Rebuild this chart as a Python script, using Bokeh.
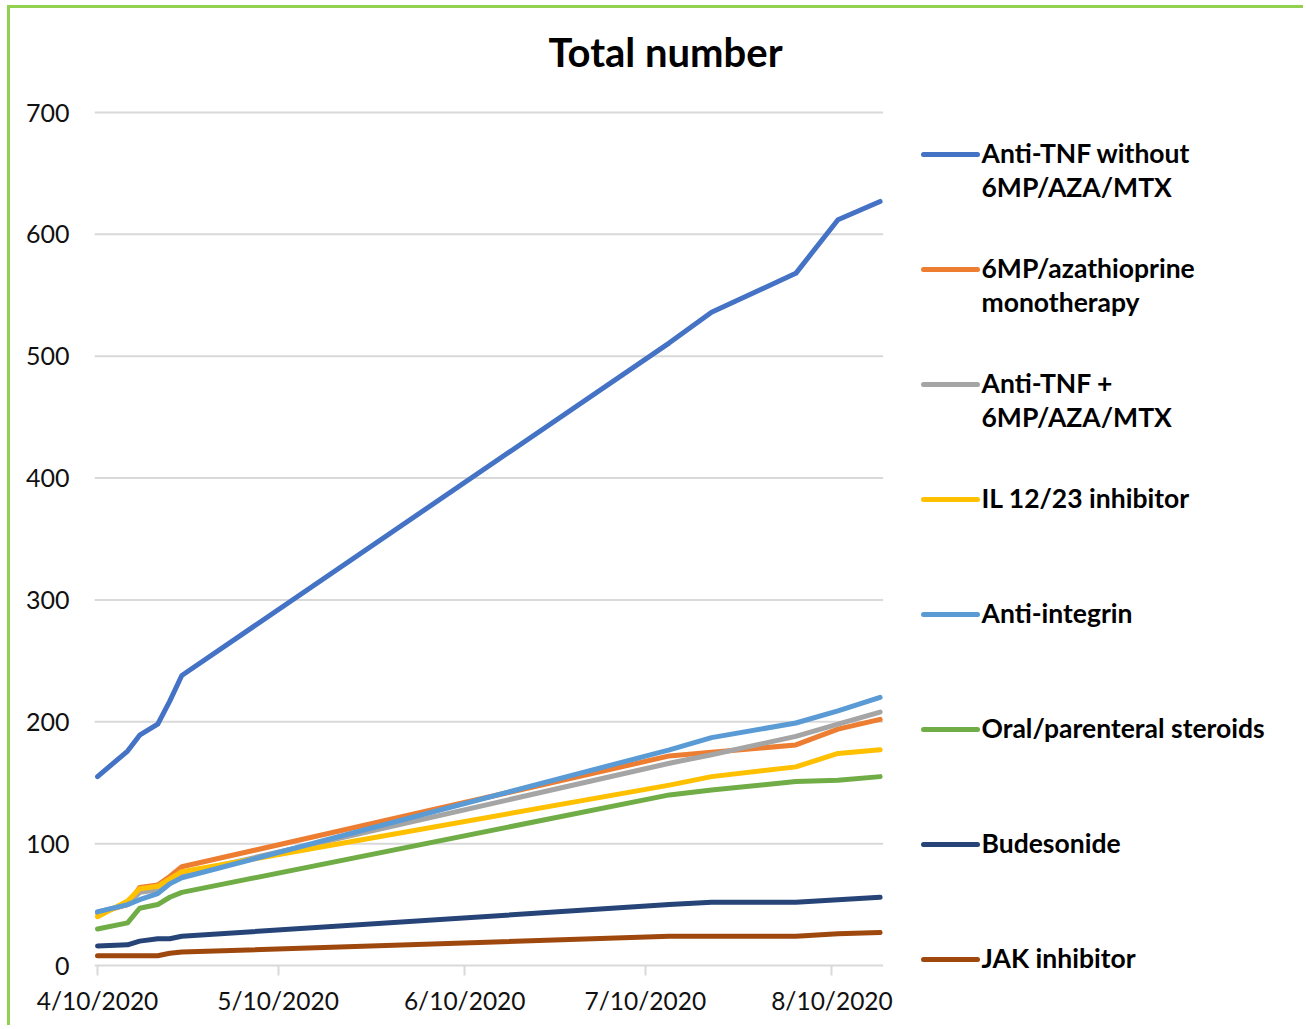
import pandas as pd
from bokeh.plotting import figure
from bokeh.models import Range1d, LinearAxis, FixedTicker, ColumnDataSource
from bokeh.core.properties import value
from bokeh.embed import file_html
from bokeh.resources import INLINE

# ---------------- data ----------------
dates = ["2020-04-10", "2020-04-15", "2020-04-17", "2020-04-20", "2020-04-22",
         "2020-04-24", "2020-07-14", "2020-07-21", "2020-08-04", "2020-08-11",
         "2020-08-18"]

anti_tnf_without = [155, 176, 189, 198, 217, 238, 511, 536, 568, 612, 627]
mp_aza_mono = [43, 50, 64, 66, 73, 81, 172, 175, 181, 194, 202]
anti_tnf_plus = [44, 50, 60, 62, 69, 75, 166, 173, 188, 198, 208]
il_12_23 = [40, 53, 63, 65, 71, 77, 148, 155, 163, 174, 177]
anti_integrin = [44, 50, 54, 59, 67, 72, 177, 187, 199, 209, 220]
steroids = [30, 35, 47, 50, 56, 60, 140, 144, 151, 152, 155]
budesonide = [16, 17, 20, 22, 22, 24, 50, 52, 52, 54, 56]
jak_inhibitor = [8, 8, 8, 8, 10, 11, 24, 24, 24, 26, 27]

series_names = ["Anti-TNF without\n6MP/AZA/MTX",
                "6MP/azathioprine\nmonotherapy",
                "Anti-TNF +\n6MP/AZA/MTX",
                "IL 12/23 inhibitor",
                "Anti-integrin",
                "Oral/parenteral steroids",
                "Budesonide",
                "JAK inhibitor"]
series_values = [anti_tnf_without, mp_aza_mono, anti_tnf_plus, il_12_23,
                 anti_integrin, steroids, budesonide, jak_inhibitor]
colors = ["#4472C4", "#ED7D31", "#A5A5A5", "#FFC000",
          "#5B9BD5", "#70AD47", "#264478", "#9E480E"]

y_ticks = [0, 100, 200, 300, 400, 500, 600, 700]
x_tick_dates = ["2020-04-10", "2020-05-10", "2020-06-10", "2020-07-10", "2020-08-10"]
x_tick_labels = ["4/10/2020", "5/10/2020", "6/10/2020", "7/10/2020", "8/10/2020"]
title_text = "Total number"

# ---------------- layout constants (page pixels) ----------------
t0 = pd.Timestamp(dates[0])
days = [(pd.Timestamp(d) - t0).days for d in dates]
tick_days = [(pd.Timestamp(d) - t0).days for d in x_tick_dates]
last_day = days[-1]

OX, OY = 10, 8                 # canvas origin on the page
FR_L, FR_R = 94, 1290          # frame left/right (page x)
FR_T, FR_B = 8, 975            # frame top/bottom (page y)
Y0_PAGE, Y700_PAGE = 965, 112  # page y of value 0 and 700
PX_PER_DAY = 6.02
PX_PER_UNIT = (Y0_PAGE - Y700_PAGE) / 700.0
FRAME_W, FRAME_H = FR_R - FR_L, FR_B - FR_T
FONT = "Lato"

p = figure(frame_width=FRAME_W, frame_height=FRAME_H,
           min_border_left=FR_L - OX, min_border_top=FR_T - OY,
           min_border_right=1306 - FR_R, min_border_bottom=1028 - FR_B,
           x_range=Range1d(-0.5, -0.5 + FRAME_W / PX_PER_DAY),
           y_range=Range1d(-(FR_B - Y0_PAGE) / PX_PER_UNIT,
                           (Y0_PAGE - FR_T) / PX_PER_UNIT),
           x_axis_type=None, y_axis_type=None,
           toolbar_location=None, output_backend="svg",
           background_fill_color="white", border_fill_color="white")
p.outline_line_color = None
p.margin = (OY, 0, 0, OX)
p.styles = {"box-shadow": "-3px -3px 0 0 #92D050"}
# page-pixel ranges for title and legend placement
p.extra_x_ranges = {"px": Range1d(FR_L, FR_R)}
p.extra_y_ranges = {"py": Range1d(FR_B, FR_T)}

# axes
xaxis = LinearAxis(ticker=FixedTicker(ticks=tick_days),
                   major_label_overrides={d: l for d, l in zip(tick_days, x_tick_labels)},
                   bounds=(-0.5, last_day + 0.5))
xaxis.axis_line_color = None
xaxis.major_tick_line_color = "#D9D9D9"
xaxis.major_tick_line_width = 2
xaxis.major_tick_in = FR_B - Y0_PAGE
xaxis.major_tick_out = 0
xaxis.minor_tick_line_color = None
xaxis.major_label_standoff = 10
xaxis.major_label_text_font = FONT
xaxis.major_label_text_font_size = "24.5px"
xaxis.major_label_text_color = "#111111"
p.add_layout(xaxis, "below")

yaxis = LinearAxis(ticker=FixedTicker(ticks=y_ticks))
yaxis.axis_line_color = None
yaxis.major_tick_line_color = None
yaxis.major_tick_out = 0
yaxis.major_tick_in = 0
yaxis.minor_tick_line_color = None
yaxis.major_label_standoff = 25
yaxis.major_label_text_font = FONT
yaxis.major_label_text_font_size = "25px"
yaxis.major_label_text_color = "#111111"
p.add_layout(yaxis, "left")

# horizontal gridlines (0 line doubles as the category axis line)
grid_src = ColumnDataSource(dict(x0=[-0.5] * len(y_ticks),
                                 x1=[last_day + 0.5] * len(y_ticks),
                                 y=y_ticks))
p.segment(x0="x0", x1="x1", y0="y", y1="y", source=grid_src,
          line_color="#D9D9D9", line_width=2)

# series
for vals, col in zip(series_values, colors):
    p.line(days, vals, line_color=col, line_width=5,
           line_cap="round", line_join="round")

# legend (manual, page-pixel coordinates)
LEG_Y0, LEG_STEP, LINE_GAP = 154, 115, 34
for i, (name, col) in enumerate(zip(series_names, colors)):
    yp = LEG_Y0 + LEG_STEP * i
    p.segment(x0=[923], x1=[977], y0=[yp], y1=[yp],
              x_range_name="px", y_range_name="py",
              line_color=col, line_width=5, line_cap="round")
    for j, ln in enumerate(name.split("\n")):
        p.text(x=[981], y=[yp - 2 + LINE_GAP * j], text=[ln],
               x_range_name="px", y_range_name="py",
               text_font=value(FONT), text_font_style="bold",
               text_font_size="26.5px", text_color="#000000",
               text_baseline="middle", text_align="left")

# title
p.text(x=[665], y=[51], text=[title_text], x_range_name="px", y_range_name="py",
       text_font=value(FONT), text_font_style="bold", text_font_size="40px",
       text_color="#000000", text_align="center", text_baseline="middle")

open("out.html", "w").write(file_html(p, INLINE))
